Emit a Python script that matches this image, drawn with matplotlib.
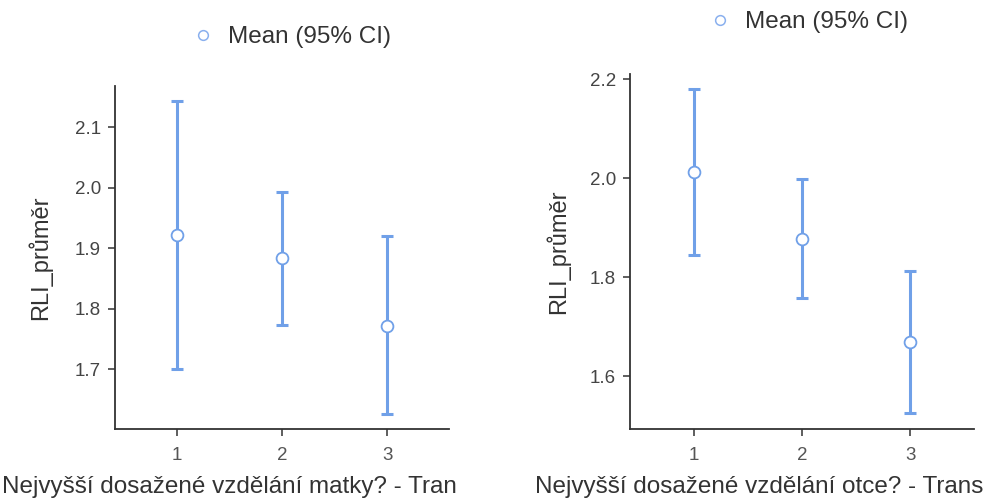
import matplotlib
matplotlib.use("Agg")
import matplotlib.pyplot as plt
from matplotlib.lines import Line2D

plt.rcParams['font.family'] = ['Liberation Sans', 'DejaVu Sans']

# data
groups = [1, 2, 3]
mother_mean = [1.921, 1.883, 1.772]
mother_lo = [1.700, 1.773, 1.625]
mother_hi = [2.143, 1.993, 1.920]
father_mean = [2.012, 1.877, 1.668]
father_lo = [1.845, 1.758, 1.525]
father_hi = [2.180, 1.998, 1.813]

mother_label = "Nejvyšší dosažené vzdělání matky? - Tran"
father_label = "Nejvyšší dosažené vzdělání otce? - Trans"
y_label = "RLI_průměr"
legend_label = "Mean (95% CI)"

blue = "#70a0e8"
dark = "#333333"

fig = plt.figure(figsize=(10.02, 5.04), dpi=100)
ax1 = fig.add_axes([115/1002, 75/504, 334/1002, 343/504])
ax2 = fig.add_axes([630/1002, 75/504, 344/1002, 355/504])


def draw(ax, mean, lo, hi, yticks, ylim, label_x):
    err = [[m - l for m, l in zip(mean, lo)], [h - m for m, h in zip(mean, hi)]]
    ax.errorbar(groups, mean, yerr=err, fmt='none', ecolor=blue, elinewidth=2.2,
                capsize=4, capthick=2.2)
    ax.plot(groups, mean, 'o', ms=8.5, mfc='white', mec=blue, mew=1.3, zorder=3)
    ax.set_xlim(0.41, 3.59)
    ax.set_ylim(*ylim)
    ax.set_xticks(groups)
    ax.set_yticks(yticks)
    ax.set_yticklabels([f"{t:.1f}" for t in yticks])
    for s in ['top', 'right']:
        ax.spines[s].set_visible(False)
    for s in ['left', 'bottom']:
        ax.spines[s].set_color(dark)
        ax.spines[s].set_linewidth(1.3)
    ax.tick_params(axis='y', length=5, width=1.1, color=dark, labelsize=13.5,
                   labelcolor='#444444', pad=5)
    ax.tick_params(axis='x', length=5, width=1.1, color=dark, labelsize=13.5,
                   labelcolor='#555555', pad=8)
    ax.set_ylabel(y_label, fontsize=17, color=dark)
    ax.yaxis.set_label_coords(label_x, 0.5)


draw(ax1, mother_mean, mother_lo, mother_hi, [1.7, 1.8, 1.9, 2.0, 2.1], (1.601, 2.168), -0.189)
draw(ax2, father_mean, father_lo, father_hi, [1.6, 1.8, 2.0, 2.2], (1.493, 2.211), -0.174)

fig.text(2/1002, 1 - 487/504, mother_label, fontsize=17.5, color=dark, ha='left', va='center')
fig.text(535/1002, 1 - 487/504, father_label, fontsize=17.5, color=dark, ha='left', va='center')

handle = Line2D([], [], ls='none', marker='o', ms=7, mfc='white', mec='#8ab0ee', mew=1.1)
fig.legend([handle], [legend_label], loc='center left', bbox_to_anchor=(190/1002, 1 - 37/504),
           frameon=False, fontsize=17.5, labelcolor=dark, handletextpad=0.45, handlelength=1.1,
           borderaxespad=0, borderpad=0)
fig.legend([handle], [legend_label], loc='center left', bbox_to_anchor=(707/1002, 1 - 22/504),
           frameon=False, fontsize=17.5, labelcolor=dark, handletextpad=0.45, handlelength=1.1,
           borderaxespad=0, borderpad=0)

fig.savefig("out.png", dpi=100)
